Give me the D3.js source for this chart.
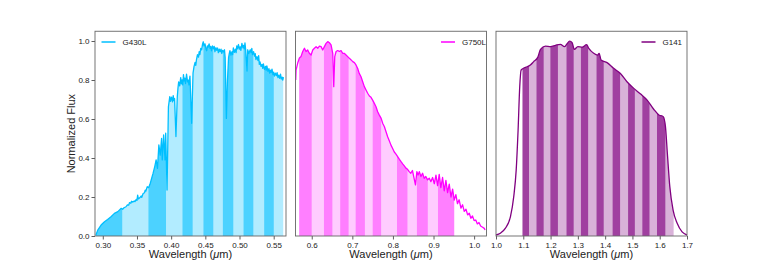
<!DOCTYPE html>
<meta charset="utf-8">
<body style="margin:0;background:#fff">
<script src="https://d3js.org/d3.v7.min.js"></script>
<script>

// spectra: [wavelength (micron), normalized flux]
var g430 = [
  [0.290,0.005],[0.2926,0.030],[0.2975,0.056],[0.3025,0.073],[0.307,0.085],[0.312,0.099],[0.317,0.116],[0.322,0.125],
  [0.327,0.142],[0.329,0.137],[0.331,0.145],[0.334,0.150],[0.336,0.160],[0.338,0.158],[0.339,0.171],[0.341,0.168],
  [0.342,0.178],[0.344,0.174],[0.346,0.180],[0.347,0.176],[0.349,0.188],[0.350,0.182],[0.351,0.210],[0.352,0.190],
  [0.354,0.196],[0.356,0.205],[0.357,0.198],[0.359,0.218],[0.361,0.222],[0.362,0.235],[0.363,0.230],[0.365,0.253],
  [0.367,0.248],[0.369,0.265],[0.371,0.290],[0.3735,0.321],[0.376,0.356],[0.378,0.390],[0.380,0.347],[0.382,0.467],
  [0.384,0.415],[0.386,0.500],[0.387,0.390],[0.389,0.518],[0.391,0.390],[0.392,0.527],[0.394,0.236],[0.396,0.663],
  [0.398,0.715],[0.399,0.690],[0.4005,0.712],[0.402,0.688],[0.403,0.720],[0.404,0.695],[0.405,0.705],[0.407,0.510],
  [0.409,0.715],[0.410,0.760],[0.411,0.790],[0.4125,0.770],[0.414,0.812],[0.415,0.780],[0.416,0.800],[0.417,0.775],
  [0.418,0.828],[0.419,0.795],[0.420,0.810],[0.421,0.782],[0.4225,0.830],[0.424,0.790],[0.425,0.800],[0.426,0.775],
  [0.4275,0.820],[0.430,0.578],[0.432,0.835],[0.4335,0.870],[0.435,0.890],[0.436,0.875],[0.437,0.903],[0.4385,0.930],
  [0.440,0.917],[0.441,0.946],[0.442,0.930],[0.4433,0.962],[0.4446,0.955],[0.446,0.985],[0.447,0.996],[0.448,0.975],
  [0.4495,0.985],[0.451,0.958],[0.452,0.950],[0.453,0.975],[0.454,0.968],[0.4555,0.985],[0.457,0.962],[0.458,0.972],
  [0.459,0.950],[0.4605,0.975],[0.462,0.960],[0.463,0.972],[0.464,0.945],[0.4655,0.966],[0.4667,0.952],[0.468,0.964],
  [0.469,0.940],[0.4705,0.958],[0.4716,0.945],[0.473,0.958],[0.474,0.936],[0.4752,0.952],[0.4765,0.944],[0.478,0.955],
  [0.479,0.915],[0.4808,0.603],[0.4824,0.800],[0.484,0.915],[0.485,0.935],[0.486,0.950],[0.4875,0.928],[0.489,0.945],
  [0.490,0.930],[0.491,0.965],[0.4925,0.942],[0.494,0.958],[0.495,0.940],[0.496,0.975],[0.497,0.960],[0.4985,0.982],
  [0.4997,0.958],[0.501,0.970],[0.502,0.952],[0.5035,0.988],[0.505,0.965],[0.506,0.978],[0.507,0.960],[0.508,0.990],
  [0.509,0.955],[0.511,0.846],[0.512,0.955],[0.5135,0.935],[0.5157,0.955],[0.517,0.940],[0.518,0.962],[0.519,0.930],
  [0.5206,0.945],[0.522,0.922],[0.523,0.935],[0.524,0.905],[0.5255,0.920],[0.527,0.900],[0.528,0.925],[0.529,0.880],
  [0.530,0.893],[0.5315,0.870],[0.533,0.880],[0.534,0.860],[0.535,0.882],[0.5365,0.855],[0.538,0.870],[0.539,0.850],
  [0.540,0.872],[0.5415,0.845],[0.543,0.858],[0.544,0.835],[0.545,0.850],[0.5462,0.838],[0.5475,0.856],[0.549,0.828],
  [0.550,0.840],[0.551,0.820],[0.5525,0.835],[0.554,0.822],[0.555,0.838],[0.5562,0.812],[0.5574,0.825],[0.5587,0.808],
  [0.560,0.830],[0.561,0.805],[0.5623,0.815],[0.5633,0.800],[0.5643,0.815]
];

var g750 = [
  [0.5606,0.800],[0.5614,0.851],[0.5655,0.887],[0.5696,0.913],[0.5737,0.921],[0.5778,0.946],[0.582,0.963],[0.586,0.946],
  [0.590,0.954],[0.594,0.937],[0.5984,0.928],[0.6025,0.954],[0.6066,0.963],[0.6107,0.971],[0.615,0.963],[0.619,0.974],
  [0.623,0.971],[0.627,0.954],[0.6312,0.971],[0.6353,0.988],[0.6394,0.997],[0.6435,0.991],[0.6476,0.980],[0.6517,0.937],
  [0.6542,0.766],[0.6567,0.920],[0.660,0.946],[0.664,0.951],[0.668,0.946],[0.6722,0.951],[0.6763,0.937],[0.680,0.937],
  [0.6845,0.928],[0.6886,0.920],[0.6927,0.911],[0.697,0.903],[0.701,0.894],[0.705,0.889],[0.709,0.877],[0.713,0.860],
  [0.717,0.834],[0.7214,0.817],[0.7255,0.791],[0.7296,0.766],[0.7337,0.749],[0.7378,0.732],[0.742,0.718],[0.746,0.711],
  [0.750,0.697],[0.7542,0.680],[0.7583,0.663],[0.7624,0.637],[0.7665,0.620],[0.771,0.603],[0.775,0.577],[0.779,0.560],
  [0.783,0.535],[0.787,0.509],[0.791,0.489],[0.7952,0.466],[0.7993,0.449],[0.803,0.432],[0.8075,0.420],[0.8116,0.407],
  [0.816,0.393],[0.820,0.381],[0.824,0.370],[0.828,0.360],[0.832,0.348],[0.836,0.342],[0.840,0.330],[0.844,0.322],
  [0.848,0.336],[0.8555,0.262],[0.859,0.330],[0.862,0.313],[0.865,0.330],[0.869,0.305],[0.873,0.322],[0.877,0.296],
  [0.881,0.305],[0.8854,0.288],[0.8895,0.296],[0.8936,0.279],[0.8977,0.300],[0.902,0.268],[0.906,0.312],[0.910,0.258],
  [0.914,0.316],[0.918,0.248],[0.9223,0.300],[0.9264,0.232],[0.9305,0.285],[0.9346,0.222],[0.9387,0.266],[0.943,0.200],
  [0.947,0.240],[0.951,0.184],[0.955,0.212],[0.959,0.166],[0.963,0.186],[0.9675,0.143],[0.9716,0.160],[0.9757,0.126],
  [0.980,0.137],[0.984,0.108],[0.988,0.117],[0.992,0.091],[0.996,0.103],[1.000,0.079],[1.004,0.082],[1.008,0.062],
  [1.012,0.069],[1.016,0.051],[1.021,0.045],[1.025,0.039],[1.027,0.031]
];

var g141 = [
  [1.000,0.005],[1.016,0.014],[1.034,0.039],[1.053,0.099],[1.065,0.202],[1.074,0.338],[1.081,0.544],[1.087,0.766],
  [1.092,0.851],[1.098,0.858],[1.114,0.868],[1.126,0.877],[1.138,0.894],[1.153,0.916],[1.163,0.957],[1.181,0.974],
  [1.200,0.971],[1.218,0.978],[1.236,0.983],[1.251,0.971],[1.260,0.985],[1.270,0.999],[1.279,0.991],[1.287,0.957],
  [1.300,0.971],[1.316,0.968],[1.332,0.981],[1.340,0.962],[1.358,0.937],[1.373,0.928],[1.378,0.937],[1.385,0.903],
  [1.407,0.889],[1.431,0.860],[1.456,0.833],[1.480,0.791],[1.505,0.757],[1.530,0.728],[1.554,0.697],[1.578,0.650],
  [1.597,0.621],[1.613,0.612],[1.621,0.561],[1.628,0.424],[1.637,0.253],[1.649,0.133],[1.664,0.065],[1.682,0.021],
  [1.700,0.005]
];

// spectroscopic bin edges (alternating dark / light)
var g430Bins = [0.2877,0.3286,0.3666,0.3925,0.4164,0.4316,0.4471,0.4618,0.4755,0.4911,0.5057,0.5204,0.536,0.5502,0.5643];
var g750Bins = [0.569,0.600,0.630,0.651,0.670,0.691,0.708,0.731,0.750,0.771,0.810,0.836,0.859,0.886,0.911,0.951];
var g141Bins = [1.097,1.121,1.148,1.175,1.199,1.227,1.258,1.285,1.311,1.338,1.368,1.395,1.427,1.455,1.484,1.509,1.536,1.563,1.590,1.621,1.651];

var g430Ticks = [0.30,0.35,0.40,0.45,0.50,0.55];
var g750Ticks = [0.6,0.7,0.8,0.9,1.0];
var g141Ticks = [1.0,1.1,1.2,1.3,1.4,1.5,1.6,1.7];
var fluxTicks = [0.0,0.2,0.4,0.6,0.8,1.0];

var W = 763, H = 265;
var top_ = 31.25, bot = 236, pw = 191;
var font = 'Liberation Sans, Arial, Helvetica, sans-serif';

var svg = d3.select('body').append('svg')
    .attr('width', W).attr('height', H)
    .style('font-family', font);

var y = d3.scaleLinear().domain([0, 1.05]).range([bot, top_]);

var panels = [
  {id: 'p1', name: 'G430L', data: g430, bins: g430Bins, ticks: g430Ticks, fmt: '.2f',
   left: 95, dom: [0.2886, 0.568], col: '#00bfff', dark: 0.7, light: 0.3, legend: 'left', curve: d3.curveLinear},
  {id: 'p2', name: 'G750L', data: g750, bins: g750Bins, ticks: g750Ticks, fmt: '.1f',
   left: 295.5, dom: [0.56, 1.0305], col: '#ff00ff', dark: 0.5, light: 0.2, legend: 'right', curve: d3.curveLinear},
  {id: 'p3', name: 'G141', data: g141, bins: g141Bins, ticks: g141Ticks, fmt: '.1f',
   left: 496, dom: [1.0, 1.7], col: '#800080', dark: 0.75, light: 0.3, legend: 'right', curve: d3.curveMonotoneX}
];

panels.forEach(function(p, pi) {
  var x = d3.scaleLinear().domain(p.dom).range([p.left, p.left + pw]);
  var data = p.data;
  var g = svg.append('g');

  var area = d3.area().curve(p.curve)
    .x(function(d) { return x(d[0]); })
    .y0(y(0)).y1(function(d) { return y(d[1]); });
  var line = d3.line().curve(p.curve)
    .x(function(d) { return x(d[0]); })
    .y(function(d) { return y(d[1]); });

  // shaded bins
  for (var i = 0; i < p.bins.length - 1; i++) {
    var cid = p.id + '-bin' + i;
    svg.append('clipPath').attr('id', cid).append('rect')
      .attr('x', x(p.bins[i])).attr('width', x(p.bins[i+1]) - x(p.bins[i]))
      .attr('y', top_).attr('height', bot - top_);
    g.append('path').datum(data)
      .attr('d', area)
      .attr('fill', p.col)
      .attr('fill-opacity', i % 2 == 0 ? p.dark : p.light)
      .attr('clip-path', 'url(#' + cid + ')');
  }

  svg.append('clipPath').attr('id', p.id + '-frame').append('rect')
    .attr('x', p.left).attr('y', top_).attr('width', pw).attr('height', bot - top_);

  g.append('path').datum(data)
    .attr('d', line)
    .attr('fill', 'none')
    .attr('stroke', p.col)
    .attr('stroke-width', 1.3)
    .attr('stroke-linejoin', 'round')
    .attr('clip-path', 'url(#' + p.id + '-frame)');

  // x axis
  var xa = svg.append('g').attr('transform', 'translate(0,' + bot + ')')
    .call(d3.axisBottom(x).tickValues(p.ticks).tickFormat(d3.format(p.fmt)).tickSize(3.5).tickSizeOuter(0));
  xa.select('.domain').remove();
  xa.selectAll('line').attr('stroke', '#333').attr('stroke-width', 0.8);
  xa.selectAll('text').attr('font-size', 8).attr('fill', '#222').attr('dy', '0.75em').attr('y', 5.5)
    .style('font-family', font);

  if (pi == 0) {
    var ya = svg.append('g').attr('transform', 'translate(' + p.left + ',0)')
      .call(d3.axisLeft(y).tickValues(fluxTicks).tickFormat(d3.format('.1f')).tickSize(3.5).tickSizeOuter(0));
    ya.select('.domain').remove();
    ya.selectAll('line').attr('stroke', '#333').attr('stroke-width', 0.8);
    ya.selectAll('text').attr('font-size', 8).attr('fill', '#222').attr('x', -5.5)
      .style('font-family', font);
  }

  svg.append('rect')
    .attr('x', p.left).attr('y', top_).attr('width', pw).attr('height', bot - top_)
    .attr('fill', 'none').attr('stroke', '#666').attr('stroke-width', 0.9);

  // legend
  var lx = p.legend == 'left' ? p.left + 6.5 : p.left + pw - 45.5;
  svg.append('line')
    .attr('x1', lx).attr('x2', lx + 14).attr('y1', 42).attr('y2', 42)
    .attr('stroke', p.col).attr('stroke-width', 1.5);
  svg.append('text').text(p.name)
    .attr('x', lx + 21).attr('y', 42).attr('dy', '0.35em')
    .attr('font-size', 8).attr('fill', '#222');

  var lab = svg.append('text')
    .attr('x', p.left + pw / 2).attr('y', 258)
    .attr('text-anchor', 'middle')
    .attr('font-size', 11).attr('fill', '#222');
  lab.append('tspan').text('Wavelength (');
  lab.append('tspan').attr('font-style', 'italic').text('\u03bc');
  lab.append('tspan').text('m)');
});

svg.append('text').text('Normalized Flux')
  .attr('transform', 'translate(75,' + ((top_ + bot) / 2) + ') rotate(-90)')
  .attr('text-anchor', 'middle')
  .attr('font-size', 11).attr('fill', '#222');

</script>
</body>
</html>
